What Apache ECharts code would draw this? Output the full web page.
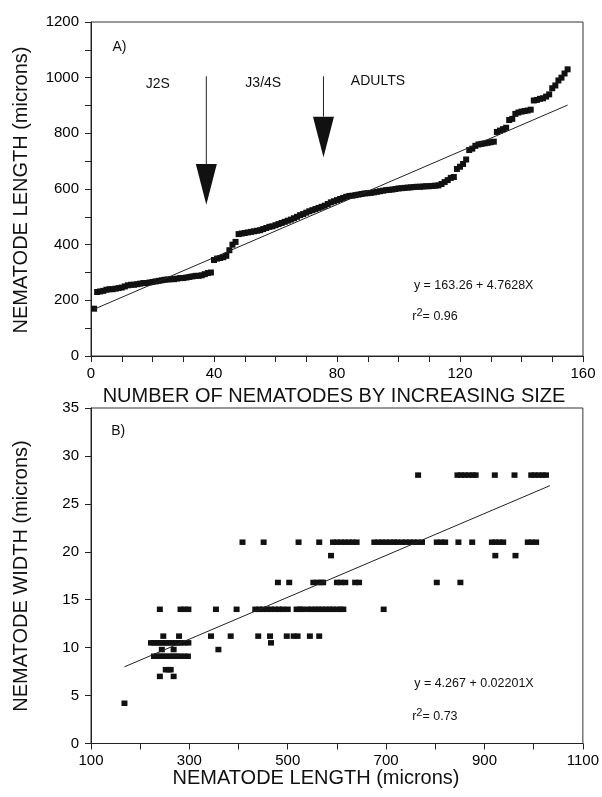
<!DOCTYPE html>
<html><head><meta charset="utf-8">
<script src="https://cdn.jsdelivr.net/npm/echarts@6/dist/echarts.min.js"></script>
<style>html,body{margin:0;padding:0;background:#fff}#c{width:602px;height:797px}</style>
</head><body><div id="c"></div>
<script>
// ---------- Panel A: nematode length by rank ----------
const lengthsSorted = [
  170,
  230, 232, 234, 238, 240, 240, 242, 244, 246, 250, 254,
  256, 256, 258, 260, 262, 262, 264, 266, 268, 270, 272, 274, 275,
  276, 276, 278, 280, 280, 282, 284, 286, 288, 288, 290, 294, 298, 300,
  345, 350, 352, 355, 360, 380, 400, 410,
  438, 440, 442, 444, 446, 448, 450, 452, 456, 460, 464,
  466, 470, 474, 478, 482, 486, 490, 495, 500, 506,
  510, 515, 520, 524, 528, 532, 536, 540, 546, 552,
  556, 560, 564, 568, 572, 575, 576, 578, 580, 582,
  584, 585, 586, 588, 590, 592, 594, 596, 597, 598,
  600, 602, 603, 604, 605, 606, 607, 608, 608, 609, 610, 610, 611, 612, 613,
  618, 625, 632, 640, 643, 672, 680, 690, 706,
  740, 745, 755, 760, 762, 764, 766, 768, 770,
  805, 810, 815, 820, 848, 852, 870, 875, 878, 880, 882, 885,
  918, 920, 924, 926, 932, 940, 962, 972, 990, 1000, 1015, 1030
];
const regLineA = [[1, 168.0], [155, 901.5]];
const xTicksA = [0, 40, 80, 120, 160];
const yTicksA = [0, 200, 400, 600, 800, 1000, 1200];
const stageLabels = ['J2S', 'J3/4S', 'ADULTS'];
const stageLabelX = [17.8, 50.2, 84.5];
const stageLabelY = [976, 980, 986];
const arrowX = [37.5, 75.6];
const arrowTop = [1005, 1005];
const arrowHeadTop = [690, 860];
const arrowTip = [543, 714];
const eqA = 'y = 163.26 + 4.7628X';
const r2A = '0.96';

// ---------- Panel B: width vs length ----------
const widthLevels = [4.2, 7.0, 7.7, 9.1, 9.8, 10.5, 11.2, 14.0, 16.8, 19.6, 21.0, 28.0];
const lenW4_2 = [168];
const lenW7_0 = [240, 268];
const lenW7_7 = [252, 258, 262];
const lenW9_1 = [228, 234, 240, 246, 252, 258, 264, 270, 276, 282, 290, 297];
const lenW9_8 = [244, 268, 359];
const lenW10_5 = [222, 228, 234, 240, 246, 252, 258, 264, 270, 276, 282, 290, 298, 466];
const lenW11_2 = [247, 279, 344, 384, 440, 464, 498, 512, 520, 545, 564];
const lenW14_0 = [240, 282, 290, 298, 354, 396, 434, 442, 450, 458, 466, 474, 482, 490, 500,
                  518, 525, 530, 541, 548, 556, 563, 570, 578, 585, 592, 600, 607, 613, 695];
const lenW16_8 = [480, 503, 552, 560, 568, 572, 600, 608, 617, 637, 645, 803, 851];
const lenW19_6 = [588, 922, 963];
const lenW21_0 = [408, 451, 522, 564, 592, 600, 608, 616, 624, 632, 640, 676, 684, 692, 700,
                  708, 716, 722, 732, 740, 748, 756, 764, 773, 803, 812, 820, 847, 875,
                  915, 922, 930, 938, 988, 996, 1005];
const lenW28_0 = [765, 845, 852, 860, 868, 876, 882, 921, 961, 995, 1002, 1010, 1018, 1025];
const regLineB = [[168, 8.0], [1033, 26.9]];
const xTicksB = [100, 300, 500, 700, 900, 1100];
const yTicksB = [0, 5, 10, 15, 20, 25, 30, 35];
const eqB = 'y = 4.267 + 0.02201X';
const r2B = '0.73';

// ---------- build ----------
const FONT = "'Liberation Sans', Arial, Helvetica, sans-serif";
const INK = '#111';
const pointsA = lengthsSorted.map((v, i) => [i + 1, v]);
const lenGroups = [lenW4_2, lenW7_0, lenW7_7, lenW9_1, lenW9_8, lenW10_5, lenW11_2, lenW14_0, lenW16_8, lenW19_6, lenW21_0, lenW28_0];
const pointsB = [];
lenGroups.forEach((g, k) => g.forEach(L => pointsB.push([L, widthLevels[k]])));

function axisCommon(labelFn, margin) {
  return {
    axisLine: { show: true, lineStyle: { color: '#222', width: 1 } },
    axisTick: { show: true, inside: false, length: 6, lineStyle: { color: '#222', width: 1 } },
    axisLabel: { color: '#000', fontFamily: FONT, fontSize: 15, margin: margin, formatter: labelFn },
    splitLine: { show: false }
  };
}

const chart = echarts.init(document.getElementById('c'), null, { renderer: 'canvas' });
chart.setOption({
  animation: false,
  backgroundColor: '#fff',
  grid: [
    { left: 91, top: 22, width: 492, height: 334, show: true, borderColor: '#333', borderWidth: 1 },
    { left: 91, top: 408, width: 492, height: 335.5, show: true, borderColor: '#333', borderWidth: 1 }
  ],
  xAxis: [
    Object.assign({ type: 'value', gridIndex: 0, min: 0, max: 160, interval: 10 },
      axisCommon(v => xTicksA.includes(v) ? String(v) : '', 10)),
    Object.assign({ type: 'value', gridIndex: 1, min: 100, max: 1100, interval: 100 },
      axisCommon(v => xTicksB.includes(v) ? String(v) : '', 10))
  ],
  yAxis: [
    Object.assign({ type: 'value', gridIndex: 0, min: 0, max: 1200, interval: 100 },
      axisCommon(v => yTicksA.includes(v) ? String(v) : '', 12)),
    Object.assign({ type: 'value', gridIndex: 1, min: 0, max: 35, interval: 5 },
      axisCommon(v => yTicksB.includes(v) ? String(v) : '', 12))
  ],
  series: [
    { type: 'scatter', xAxisIndex: 0, yAxisIndex: 0, data: pointsA, symbol: 'rect', symbolSize: [6, 6],
      itemStyle: { color: INK, opacity: 1 }, z: 3 },
    { type: 'line', xAxisIndex: 0, yAxisIndex: 0, data: regLineA, showSymbol: false, symbol: 'none',
      lineStyle: { color: '#222', width: 1 }, z: 4 },
    { type: 'scatter', xAxisIndex: 1, yAxisIndex: 1, data: pointsB, symbol: 'rect', symbolSize: [6, 5.5],
      itemStyle: { color: INK, opacity: 1 }, z: 3 },
    { type: 'line', xAxisIndex: 1, yAxisIndex: 1, data: regLineB, showSymbol: false, symbol: 'none',
      lineStyle: { color: '#222', width: 1 }, z: 4 }
  ]
});

const pA = p => chart.convertToPixel({ xAxisIndex: 0, yAxisIndex: 0 }, p);
const pB = p => chart.convertToPixel({ xAxisIndex: 1, yAxisIndex: 1 }, p);

function txt(pos, text, size, extra) {
  return {
    type: 'text', x: pos[0], y: pos[1], z: 10,
    style: Object.assign({ text: text, fill: INK, font: size + 'px ' + FONT, align: 'left', verticalAlign: 'middle' }, extra || {})
  };
}
function r2Text(pos, val) {
  return {
    type: 'text', x: pos[0], y: pos[1], z: 10,
    style: {
      text: '{a|r}{s|2}{a|= ' + val + '}', align: 'left', verticalAlign: 'middle', fill: INK,
      rich: {
        a: { fontSize: 12.5, fontFamily: FONT, fill: INK },
        s: { fontSize: 11, fontFamily: FONT, fill: INK, padding: [0, 0, 8, 0] }
      }
    }
  };
}

const g = [];
// axis titles
g.push({ type: 'text', x: 21, y: 190, rotation: Math.PI / 2, z: 10,
  style: { text: 'NEMATODE LENGTH (microns)', fill: INK, font: '20px ' + FONT, align: 'center', verticalAlign: 'middle' } });
g.push({ type: 'text', x: 334, y: 396, z: 10,
  style: { text: 'NUMBER OF NEMATODES BY INCREASING SIZE', fill: INK, font: '20px ' + FONT, align: 'center', verticalAlign: 'middle' } });
g.push({ type: 'text', x: 21, y: 576, rotation: Math.PI / 2, z: 10,
  style: { text: 'NEMATODE WIDTH (microns)', fill: INK, font: '20px ' + FONT, align: 'center', verticalAlign: 'middle' } });
g.push({ type: 'text', x: 316, y: 778, z: 10,
  style: { text: 'NEMATODE LENGTH (microns)', fill: INK, font: '20px ' + FONT, align: 'center', verticalAlign: 'middle' } });

// panel A annotations
g.push(txt(pA([7, 1110]), 'A)', 14));
stageLabels.forEach((s, i) => g.push(txt(pA([stageLabelX[i], stageLabelY[i]]), s, 14)));
arrowX.forEach((ax, i) => {
  const t = pA([ax, arrowTop[i]]), h = pA([ax, arrowHeadTop[i]]), tip = pA([ax, arrowTip[i]]);
  g.push({ type: 'line', z: 9, shape: { x1: t[0], y1: t[1], x2: h[0], y2: h[1] }, style: { stroke: '#222', lineWidth: 1 } });
  g.push({ type: 'polygon', z: 9, shape: { points: [[h[0] - 10.5, h[1]], [h[0] + 10.5, h[1]], [tip[0], tip[1]]] }, style: { fill: INK } });
});
g.push(txt(pA([105, 254]), eqA, 12.5));
g.push(r2Text(pA([104.5, 141]), r2A));

// panel B annotations
g.push(txt(pB([141, 32.6]), 'B)', 14));
g.push(txt(pB([757, 6.27]), eqB, 12.5));
g.push(r2Text(pB([753, 2.79]), r2B));

chart.setOption({ graphic: g });
</script>
</body></html>
